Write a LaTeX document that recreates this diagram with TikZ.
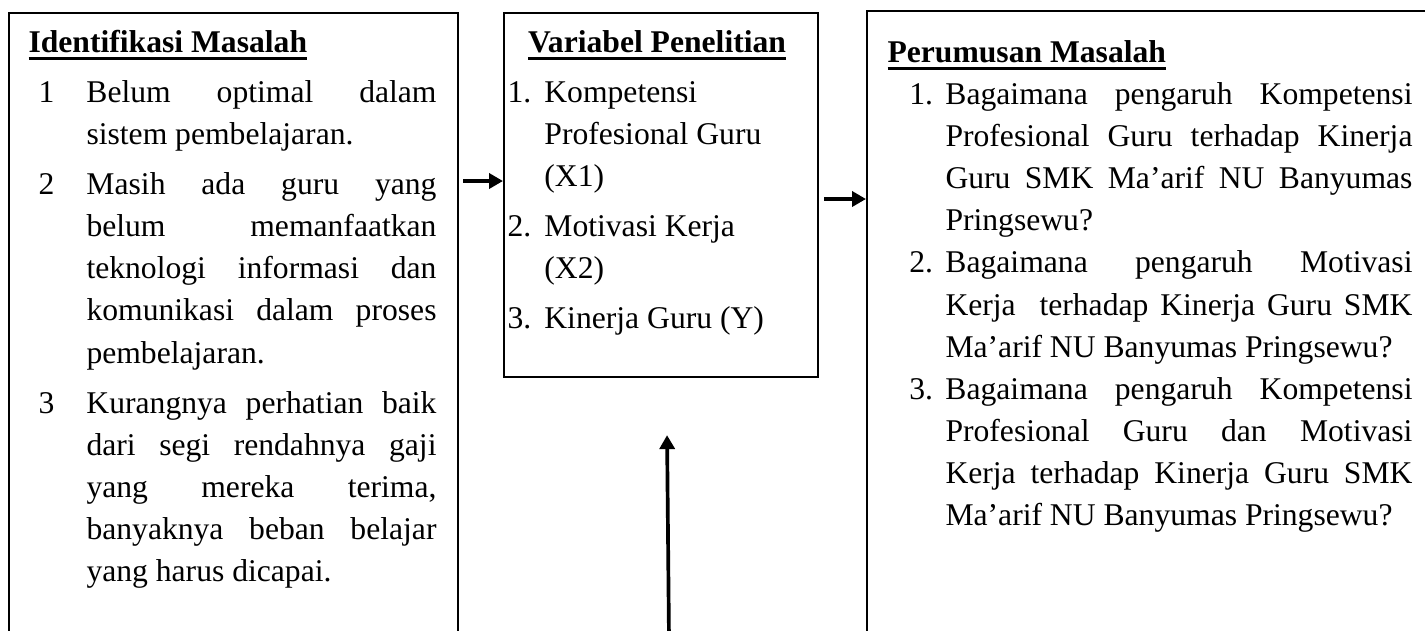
\documentclass[tikz,border=0pt]{standalone}
\usepackage{fontspec}
\setmainfont{Liberation Serif}
\usetikzlibrary{arrows.meta,calc}

\newcommand{\ulhead}[1]{\setbox0=\hbox{\bfseries #1}\rlap{\rule[-2.85pt]{\wd0}{1.1pt}}\box0}
\newcommand{\numitem}[3]{\par\hangindent=#1\hangafter=1\noindent\makebox[#1][l]{\hspace*{#2}#3}}

\begin{document}
\begin{tikzpicture}[x=0.3794pt, y=-0.3794pt, >={Triangle[length=5.3pt,width=5.7pt]},
    every node/.style={font=\fontsize{12}{16}\selectfont},
    frame/.style={draw, line width=0.8pt, inner sep=0pt, anchor=north west},
    body/.style={anchor=base west, inner sep=0pt, align=justify},
    arr/.style={->, line width=1.4pt}]

    % parameters
    \def\px{0.3794pt}   % one pixel of the page
    \def\deep{700}      % outer boxes run on below the page

    \useasboundingbox (0,0) rectangle (1425,630);

    % boxes
    \node[frame, minimum width=449*\px, minimum height=\deep*\px] (ident) at (8,12) {};
    \node[frame, minimum width=314*\px, minimum height=364*\px] (var) at (503,12) {};
    \node[frame, minimum width=600*\px, minimum height=\deep*\px] (rumus) at (866,10) {};

    % identifikasi masalah
    \node[body, text width=408*\px] (identtxt) at (28,52) {%
        \setlength{\parskip}{3pt}%
        \ulhead{Identifikasi Masalah}
        \numitem{22pt}{3.8pt}{1}Belum optimal dalam\linebreak sistem pembelajaran.
        \numitem{22pt}{3.8pt}{2}Masih ada guru yang\linebreak belum memanfaatkan\linebreak teknologi informasi dan\linebreak komunikasi dalam proses\linebreak pembelajaran.
        \numitem{22pt}{3.8pt}{3}Kurangnya perhatian baik\linebreak dari segi rendahnya gaji\linebreak yang mereka terima,\linebreak banyaknya beban belajar\linebreak yang harus dicapai.\par};

    % variabel penelitian
    \node[body, text width=299*\px] (vartxt) at (507,52) {%
        \setlength{\parskip}{3pt}%
        {\centering\ulhead{Variabel Penelitian}\par}
        \raggedright
        \numitem{14pt}{0pt}{1.}Kompetensi\newline Profesional Guru\newline (X1)
        \numitem{14pt}{0pt}{2.}Motivasi Kerja\newline (X2)
        \numitem{14pt}{0pt}{3.}Kinerja Guru (Y)\par};

    % perumusan masalah
    \node[body, text width=525*\px] (rumustxt) at (887,62) {%
        \ulhead{Perumusan Masalah}
        \numitem{22pt}{8.3pt}{1.}Bagaimana pengaruh Kompetensi\linebreak Profesional Guru terhadap Kinerja\linebreak Guru SMK Ma’arif NU Banyumas\linebreak Pringsewu?
        \numitem{22pt}{8.3pt}{2.}Bagaimana pengaruh Motivasi\linebreak Kerja\ \ terhadap Kinerja Guru SMK\linebreak Ma’arif NU Banyumas Pringsewu?
        \numitem{22pt}{8.3pt}{3.}Bagaimana pengaruh Kompetensi\linebreak Profesional Guru dan Motivasi\linebreak Kerja terhadap Kinerja Guru SMK\linebreak Ma’arif NU Banyumas Pringsewu?\par};

    % arrows
    \draw[arr] ($(ident.north east)+(4,169)$) -- ($(var.north west)+(0,169)$);
    \draw[arr] ($(var.north east)+(5,187)$) -- ($(rumus.north west)+(0,189)$);
    \coordinate (base) at (669,640);
    \draw[arr] (base) -- ($(var.south)+(6,57)$);
\end{tikzpicture}
\end{document}
